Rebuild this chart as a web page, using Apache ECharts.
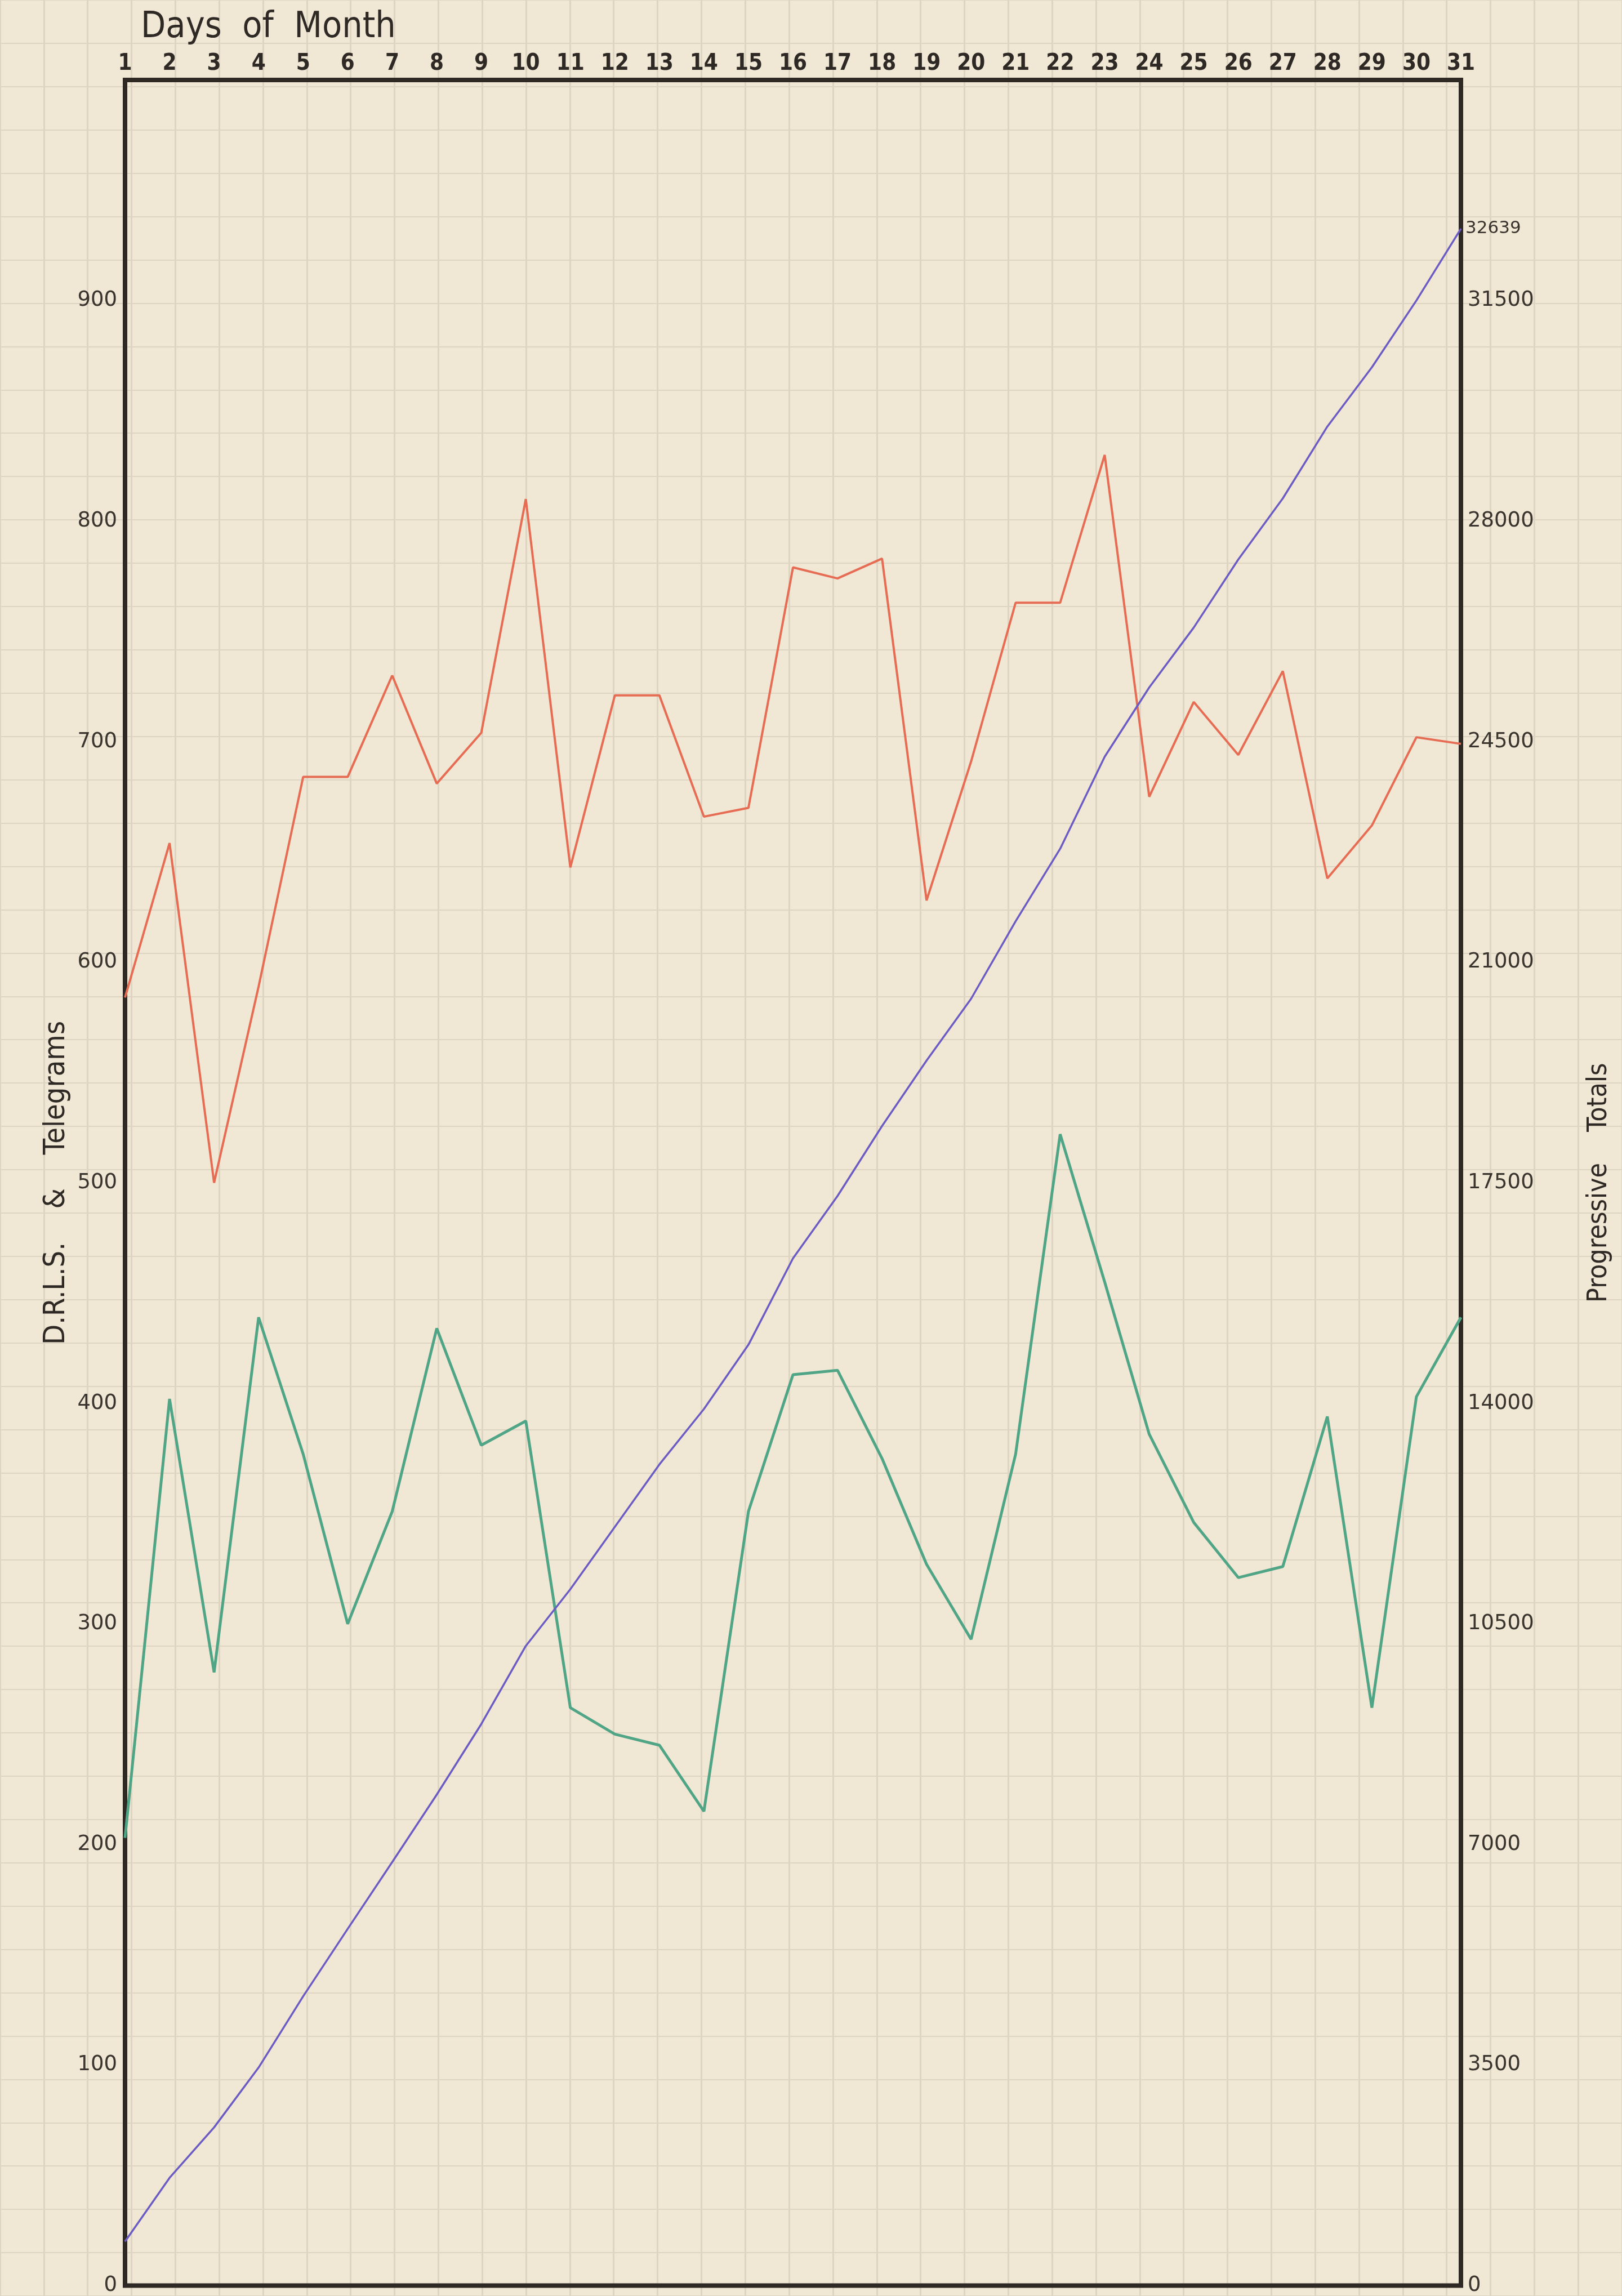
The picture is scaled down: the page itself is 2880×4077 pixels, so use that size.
<!DOCTYPE html>
<html>
<head>
<meta charset="utf-8">
<title>Days of Month</title>
<script src="https://cdn.jsdelivr.net/npm/echarts@6/dist/echarts.min.js"></script>
<style>
    html, body { margin: 0; padding: 0; background: #f0e7d4; }
    #chart { width: 2880px; height: 4077px; }
</style>
</head>
<body>
<div id="chart"></div>
<script>
    // days along the top
    const days = ['1', '2', '3', '4', '5', '6', '7', '8', '9', '10', '11', '12', '13', '14', '15', '16',
        '17', '18', '19', '20', '21', '22', '23', '24', '25', '26', '27', '28', '29', '30', '31'];

    // left scale (red + green lines)
    const drlsValues = [584, 654, 500, 589, 684, 684, 730, 681, 704, 810, 643, 721, 721, 666, 670, 779,
        774, 783, 628, 691, 763, 763, 830, 675, 718, 694, 732, 638, 662, 702, 699];
    const telegramValues = [203, 402, 278, 439, 377, 300, 351, 434, 381, 392, 262, 250, 245, 215, 351, 413,
        415, 375, 327, 293, 377, 522, 455, 386, 346, 321, 326, 394, 262, 403, 439];

    // right scale (purple line)
    const progressiveTotals = [700, 1710, 2510, 3460, 4590, 5660, 6720, 7790, 8910, 10150, 11050, 12040,
        13030, 13910, 14930, 16300, 17290, 18400, 19440, 20420, 21650, 22800, 24260, 25360, 26310, 27390,
        28360, 29500, 30440, 31500, 32639];

    const leftMax = 1000;
    const leftStep = 100;
    const rightMax = 35000;
    const rightStep = 3500;

    // plot frame on the page
    const plotLeft = 222;
    const plotRight = 2594;
    const plotTop = 142;
    const plotBottom = 4064;
    const pageW = 2880;
    const pageH = 4077;

    const ink = '#2e2925';
    const paperLine = '#ddd5c1';

    // graph paper squares: one per day across, one per 20 units up
    const dayW = (plotRight - plotLeft) / (days.length - 1);
    const rowH = (plotBottom - plotTop) / (leftMax / 20);
    const paperCols = 37;
    const paperRows = 53;
    const paperGrid = {
        left: plotLeft - 3 * dayW,
        right: pageW - (plotLeft - 3 * dayW) - paperCols * dayW,
        top: plotBottom + rowH - paperRows * rowH,
        bottom: pageH - (plotBottom + rowH)
    };

    const chart = echarts.init(document.getElementById('chart'), null, {renderer: 'canvas'});

    const labelFont = {
        fontFamily: 'DejaVu Sans',
        fontSize: 37,
        color: '#3a342e',
        formatter: v => String(v)
    };

    chart.setOption({
        backgroundColor: '#f0e7d4',
        animation: false,
        title: {
            text: 'Days  of  Month',
            left: 245,
            top: 12,
            textStyle: {
                fontFamily: 'DejaVu Sans Condensed',
                fontSize: 64,
                fontWeight: 'normal',
                color: ink
            }
        },
        grid: [{
            left: plotLeft,
            right: pageW - plotRight,
            top: plotTop,
            bottom: pageH - plotBottom,
            show: true,
            backgroundColor: 'transparent',
            borderColor: ink,
            borderWidth: 8,
            z: 3
        }, {
            left: paperGrid.left,
            right: paperGrid.right,
            top: paperGrid.top,
            bottom: paperGrid.bottom,
            z: 0
        }],
        xAxis: [{
            type: 'category',
            gridIndex: 0,
            data: days,
            position: 'top',
            boundaryGap: false,
            axisLine: {show: false},
            axisTick: {show: false},
            splitLine: {show: false},
            axisLabel: {
                fontFamily: 'DejaVu Sans Condensed',
                fontSize: 40,
                fontWeight: 'bold',
                color: ink,
                margin: 8,
                interval: 0
            }
        }, {
            type: 'value',
            gridIndex: 1,
            min: 0,
            max: paperCols,
            interval: 1,
            axisLine: {show: false},
            axisTick: {show: false},
            axisLabel: {show: false},
            splitLine: {show: true, lineStyle: {color: paperLine, width: 3}}
        }],
        yAxis: [{
            type: 'value',
            gridIndex: 0,
            position: 'left',
            min: 0,
            max: leftMax,
            interval: leftStep,
            axisLine: {show: false},
            axisTick: {show: false},
            splitLine: {show: false},
            axisLabel: Object.assign({margin: 14, showMaxLabel: false}, labelFont),
            name: 'D.R.L.S.    &    Telegrams',
            nameLocation: 'middle',
            nameRotate: 90,
            nameGap: 90,
            nameTextStyle: {
                fontFamily: 'DejaVu Sans Condensed',
                fontSize: 52,
                color: ink
            }
        }, {
            type: 'value',
            gridIndex: 0,
            position: 'right',
            min: 0,
            max: rightMax,
            interval: rightStep,
            axisLine: {show: false},
            axisTick: {show: false},
            splitLine: {show: false},
            axisLabel: Object.assign({margin: 12, showMaxLabel: false}, labelFont),
            name: 'Progressive    Totals',
            nameLocation: 'middle',
            nameRotate: 90,
            nameGap: 222,
            nameTextStyle: {
                fontFamily: 'DejaVu Sans Condensed',
                fontSize: 48,
                color: ink
            }
        }, {
            type: 'value',
            gridIndex: 1,
            min: 0,
            max: paperRows,
            interval: 1,
            axisLine: {show: false},
            axisTick: {show: false},
            axisLabel: {show: false},
            splitLine: {show: true, lineStyle: {color: paperLine, width: 2}}
        }],
        series: [{
            name: 'D.R.L.S.',
            type: 'line',
            xAxisIndex: 0,
            yAxisIndex: 0,
            data: drlsValues,
            showSymbol: false,
            lineStyle: {color: '#e66c54', width: 4},
            z: 4
        }, {
            name: 'Telegrams',
            type: 'line',
            xAxisIndex: 0,
            yAxisIndex: 0,
            data: telegramValues,
            showSymbol: false,
            lineStyle: {color: '#4fa585', width: 5},
            z: 4
        }, {
            name: 'Progressive Totals',
            type: 'line',
            xAxisIndex: 0,
            yAxisIndex: 1,
            data: progressiveTotals,
            showSymbol: false,
            lineStyle: {color: '#6b5cc4', width: 3.5},
            endLabel: {
                show: true,
                formatter: p => String(p.value),
                fontFamily: 'DejaVu Sans',
                fontSize: 31,
                color: '#3a342e',
                distance: 8
            },
            z: 4
        }]
    });
</script>
</body>
</html>
